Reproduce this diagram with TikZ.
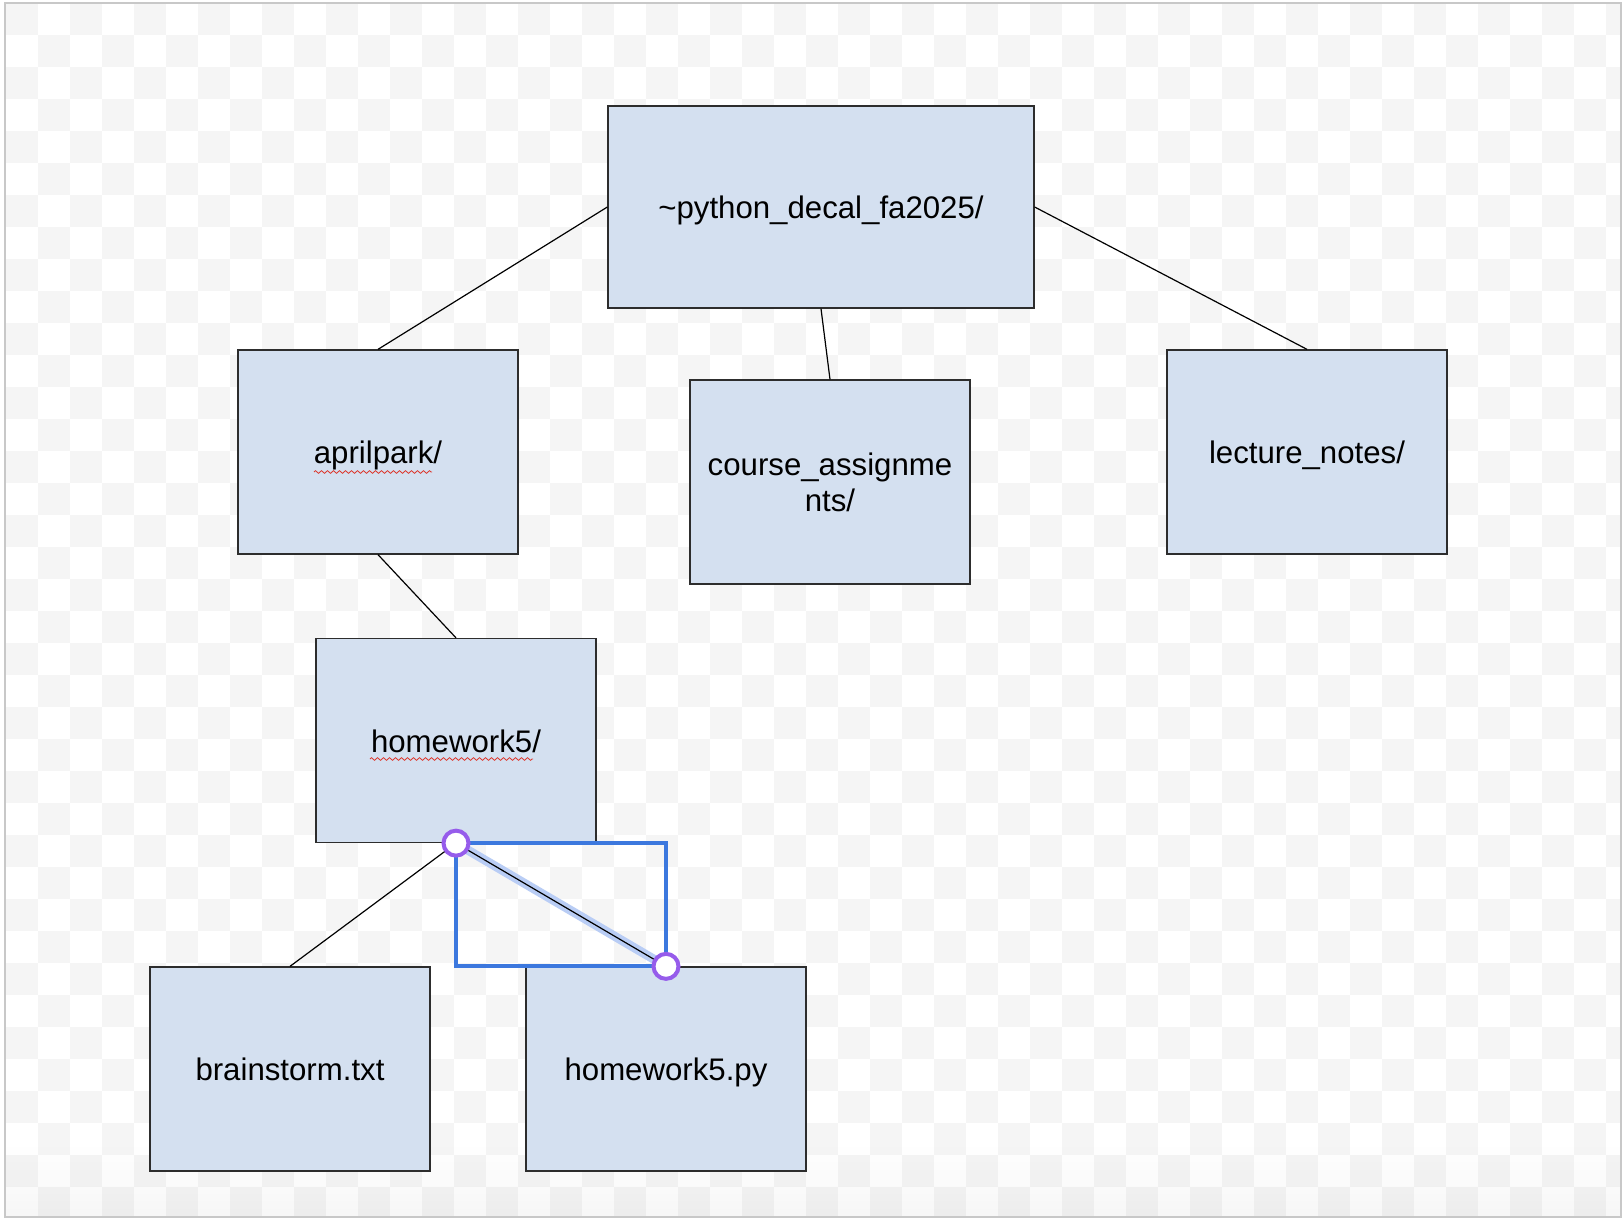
\documentclass[tikz,border=0pt]{standalone}
\usepackage{fontspec}
\setmainfont{Liberation Sans}
\usetikzlibrary{positioning}
\usetikzlibrary{decorations.pathmorphing}
\definecolor{boxblau}{RGB}{212,224,240}
\definecolor{rahmen}{RGB}{45,45,45}
\definecolor{karo}{RGB}{245,245,245}
\definecolor{randgrau}{RGB}{200,200,200}
\definecolor{auswahl}{RGB}{60,120,222}
\definecolor{griff}{RGB}{150,92,235}
\definecolor{leuchten}{RGB}{185,205,245}
\definecolor{fehlerrot}{RGB}{220,60,50}

\tikzset{
  ordner/.style={draw=rahmen, line width=0.65pt, fill=boxblau, minimum width=140pt, minimum height=102pt, inner sep=0pt, font=\fontsize{15.6pt}{18pt}\selectfont},
  einzeilig/.style={text height=15.3pt, text depth=3.7pt},
  kante/.style={line width=0.6pt, black},
  welle/.style={draw=fehlerrot, line width=0.4pt, decorate, decoration={zigzag, segment length=3pt, amplitude=0.7pt}},
  griffpunkt/.style={circle, draw=griff, line width=2pt, fill=white, minimum size=12.5pt, inner sep=0pt}
}

\begin{document}
\begin{tikzpicture}[x=0.5pt, y=-0.5pt] % 1 Einheit = 1 Pixel

\useasboundingbox (0,0) rectangle (1624,1220);
\fill[white] (0,0) rectangle (1624,1220);

% Karomuster
\begin{scope}
\clip (6,3) rectangle (1621,1217);
\foreach \j in {0,...,37} {
  \foreach \i in {0,...,25} {
    \fill[karo] ({6+64*\i+32*mod(\j,2)},{3+32*\j}) rectangle ++(32,32);
  }
}
\foreach \k [evaluate=\k as \op using 0.0035*\k] in {1,...,10} {
  \fill[black, opacity=\op] (6,{1139+7.8*\k}) rectangle (1621,{1146.8+7.8*\k}); % Schatten unten
}
\end{scope}
\draw[randgrau, line width=1pt] (5,3) rectangle (1621,1217);

% Ordner
\node[ordner, einzeilig, minimum width=213pt, minimum height=101pt] (root) at (821,207) {\textasciitilde python\_decal\_fa2025/};
\node[ordner, einzeilig] (april) at (378,452) {aprilpark/};
\node[ordner, align=center] (kurs) at (830,482) {course\_assignme\\nts/};
\node[ordner, einzeilig] (vorl) at (1307,452) {lecture\_notes/};
\node[ordner, einzeilig] (hw) at (456,740.5) {homework5/};
\node[ordner, einzeilig] (brain) at (290,1069) {brainstorm.txt};
\node[ordner, einzeilig] (hwpy) at (666,1069) {homework5.py};

% Verbindungen
\foreach \a/\b in {root.west/april.north, root.south/kurs.north, root.east/vorl.north, april.south/hw.north, hw.south/brain.north} {
  \draw[kante] (\a) -- (\b);
}

% Rechtschreibung
\draw[welle] (314,472) -- (432,472);
\draw[welle] (370,759) -- (533,759);

% Auswahl
\draw[auswahl, line width=2pt] (hw.south) rectangle (hwpy.north);
\draw[leuchten, line width=4.5pt] (hw.south) -- (hwpy.north);
\draw[kante] (hw.south) -- (hwpy.north);
\node[griffpunkt] (g1) at (hw.south) {};
\node[griffpunkt] (g2) at (hwpy.north) {};

\end{tikzpicture}
\end{document}
